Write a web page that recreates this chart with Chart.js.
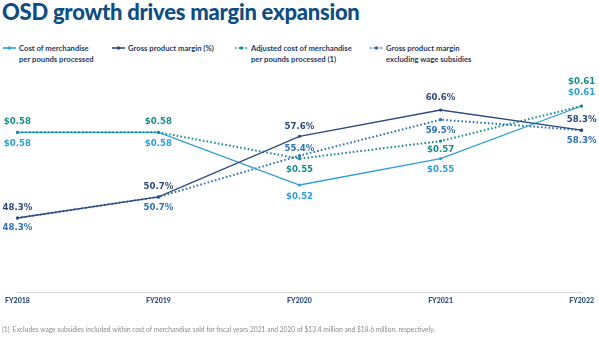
<!DOCTYPE html>
<html>
<head>
<meta charset="utf-8">
<script src="https://cdn.jsdelivr.net/npm/chart.js@4"></script>
<style>
    html, body { margin: 0; padding: 0; background: #fff; }
    body { width: 599px; height: 337px; position: relative; overflow: hidden; font-family: Lato, sans-serif; }
    #title { position: absolute; left: 2px; top: -2px; font-size: 22px; font-weight: 900; color: #0f4e82; white-space: nowrap; letter-spacing: -0.25px; }
    #legend { position: absolute; left: 0; top: 43px; width: 599px; height: 24px; }
    .item { position: absolute; top: 0; font-size: 7.7px; font-weight: 700; color: #1f3b62; line-height: 10.5px; }
    .item svg { position: absolute; left: -16px; top: 2px; }
    #chart { position: absolute; left: 0; top: 0; }
    #note { position: absolute; left: 2px; top: 325px; font-size: 6.7px; color: #8c8c8c; white-space: nowrap; }
</style>
</head>
<body>
<div id="title">OSD growth drives margin expansion</div>
<div id="legend"></div>
<canvas id="chart" width="599" height="337"></canvas>
<div id="note">(1)&nbsp; Excludes wage subsidies included within cost of merchandise sold for fiscal years 2021 and 2020 of $13.4 million and $18.6 million, respectively.</div>
<script>
const years = ['FY2018', 'FY2019', 'FY2020', 'FY2021', 'FY2022'];
const costPerPound = [0.58, 0.58, 0.52, 0.55, 0.61];
const adjCostPerPound = [0.58, 0.58, 0.55, 0.57, 0.61];
const grossMargin = [48.3, 50.7, 57.6, 60.6, 58.3];
const grossMarginExSubsidies = [48.3, 50.7, 55.4, 59.5, 58.3];

const COLORS = {
    cost: '#2e9fd4',
    adj: '#1a8c8c',
    gross: '#2d4b7d',
    excl: '#2f70b6',
};

const dollar = (v) => '$' + v.toFixed(2);
const pct = (v) => v.toFixed(1) + '%';

function lineSet(label, data, color, opts) {
    return {
        label,
        data,
        borderColor: color,
        backgroundColor: color,
        borderWidth: opts.dotted ? 2 : 1.3,
        borderDash: opts.dotted ? [1.6, 2.2] : [],
        pointRadius: 1.6,
        pointHoverRadius: 1.6,
        pointBorderWidth: 0,
        tension: 0,
        yAxisID: opts.axis,
        order: opts.order,
        fmt: opts.fmt,
        labelOffsets: opts.offsets,
    };
}

const datasets = [
    lineSet('Cost of merchandise per pounds processed', costPerPound, COLORS.cost,
        { axis: 'yCost', order: 3, fmt: dollar, offsets: [11, 11, 12, 11, -13] }),
    lineSet('Gross product margin (%)', grossMargin, COLORS.gross,
        { axis: 'yPct', order: 1, fmt: pct, offsets: [-10, -10, -10, -12, -10] }),
    lineSet('Adjusted cost of merchandise per pounds processed (1)', adjCostPerPound, COLORS.adj,
        { axis: 'yCost', order: 2, dotted: true, fmt: dollar, offsets: [-11, -11, 11, 9, -24] }),
    lineSet('Gross product margin excluding wage subsidies', grossMarginExSubsidies, COLORS.excl,
        { axis: 'yPct', order: 4, dotted: true, fmt: pct, offsets: [10, 11, -7, 11, 11] }),
];

// legend entries, two lines each
const legendItems = [
    { lines: ['Cost of merchandise', 'per pounds processed'], color: COLORS.cost, dotted: false, x: 19 },
    { lines: ['Gross product margin (%)'], color: COLORS.gross, dotted: false, x: 128 },
    { lines: ['Adjusted cost of merchandise', 'per pounds processed (1)'], color: COLORS.adj, dotted: true, x: 251 },
    { lines: ['Gross product margin', 'excluding wage subsidies'], color: COLORS.excl, dotted: true, x: 386 },
];

const legend = document.getElementById('legend');
legendItems.forEach((it) => {
    const div = document.createElement('div');
    div.className = 'item';
    div.style.left = it.x + 'px';
    const dash = it.dotted ? 'stroke-dasharray="1.5 2"' : '';
    div.innerHTML =
        `<svg width="13" height="6"><line x1="0" y1="3" x2="13" y2="3" stroke="${it.color}" stroke-width="1.6" ${dash}/>` +
        `<circle cx="6.5" cy="3" r="1.7" fill="${it.color}"/></svg>` +
        it.lines.join('<br>');
    legend.appendChild(div);
});

const valueLabels = {
    id: 'valueLabels',
    afterDatasetsDraw(chart) {
        const ctx = chart.ctx;
        ctx.save();
        ctx.font = 'bold 8.6px "DejaVu Sans", sans-serif';
        ctx.textAlign = 'center';
        ctx.textBaseline = 'middle';
        chart.data.datasets.forEach((ds, i) => {
            const meta = chart.getDatasetMeta(i);
            ctx.fillStyle = ds.borderColor;
            meta.data.forEach((pt, j) => {
                ctx.fillText(ds.fmt(ds.data[j]), pt.x, pt.y + ds.labelOffsets[j]);
            });
        });
        ctx.restore();
    },
};

new Chart(document.getElementById('chart'), {
    type: 'line',
    data: { labels: years, datasets },
    plugins: [valueLabels],
    options: {
        responsive: false,
        animation: false,
        events: [],
        layout: { padding: { left: 13, right: 14, top: 70, bottom: 0 } },
        plugins: { legend: { display: false }, tooltip: { enabled: false } },
        scales: {
            x: {
                offset: false,
                grid: { display: false, drawTicks: false },
                border: { display: true, color: '#d9d9d9', width: 1 },
                ticks: {
                    color: '#2d4b7d',
                    font: { family: 'Lato, sans-serif', size: 7, weight: '900' },
                    padding: 5,
                    maxRotation: 0,
                    autoSkip: false,
                },
                afterFit: (s) => { s.height = 45; },
            },
            yCost: { display: false, min: 0.3981, max: 0.6510 },
            yPct: { display: false, min: 39.87, max: 65.16 },
        },
    },
});
</script>
</body>
</html>
